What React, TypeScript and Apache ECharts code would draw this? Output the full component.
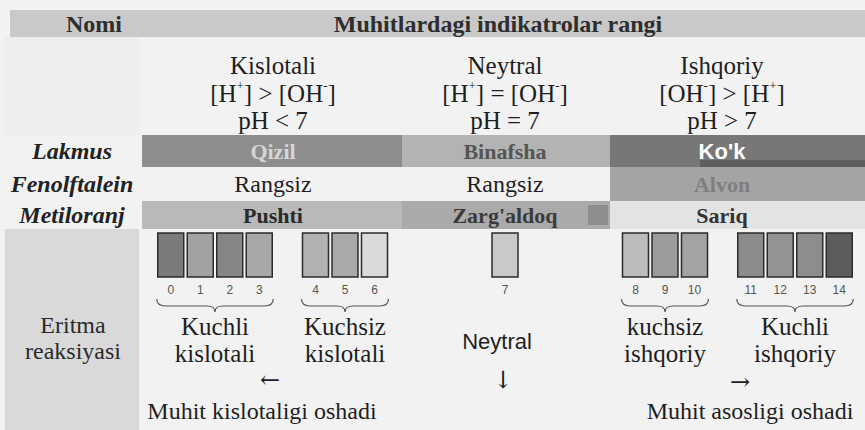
import { useEffect, useRef } from "react";
import * as echarts from "echarts";

// ---------- data ----------
const headerName = "Nomi";
const headerTitle = "Muhitlardagi indikatrolar rangi";
const mediumNames = ["Kislotali", "Neytral", "Ishqoriy"];
const ionLeft = [["H", "+"], ["H", "+"], ["OH", "-"]];
const ionRight = [["OH", "-"], ["OH", "-"], ["H", "+"]];
const ionRelations = [">", "=", ">"];
const phConditions = ["pH < 7", "pH = 7", "pH > 7"];
const indicatorNames = ["Lakmus", "Fenolftalein", "Metiloranj"];
const lakmusColors = ["Qizil", "Binafsha", "Ko'k"];
const fenolftaleinColors = ["Rangsiz", "Rangsiz", "Alvon"];
const metiloranjColors = ["Pushti", "Zarg'aldoq", "Sariq"];
const reactionLabel = ["Eritma", "reaksiyasi"];
const phValues = [0, 1, 2, 3, 4, 5, 6, 7, 8, 9, 10, 11, 12, 13, 14];
const phShades = ["#7b7b7b", "#a2a2a2", "#868686", "#a8a8a8", "#b2b2b2", "#a9a9a9", "#dadada", "#c9c9c9", "#bcbcbc", "#9c9c9c", "#a3a3a3", "#8b8b8b", "#939393", "#8d8d8d", "#5c5c5c"];
const groupRanges = [[0, 3], [4, 6], [7, 7], [8, 10], [11, 14]];
const groupLabels = [["Kuchli", "kislotali"], ["Kuchsiz", "kislotali"], ["Neytral"], ["kuchsiz", "ishqoriy"], ["Kuchli", "ishqoriy"]];
const trendArrows = ["←", "↓", "→"];
const trendLabels = ["Muhit kislotaligi oshadi", "Muhit asosligi oshadi"];

// ---------- layout / style ----------
const SERIF = "'Liberation Serif', 'Times New Roman', serif";
const SANS = "'Liberation Sans', Arial, sans-serif";
const ARROW = "'DejaVu Serif', serif";
const colCenters = [273, 505, 722];
const bandEdges = [142, 402, 610, 865];
const rowTops = [135, 167, 201, 229];
const groupCenters = [215, 345, 505, 665, 795];
const SW = 26, PITCH = 29.5, SW_TOP = 233, SW_H = 44;
const bandStyles = [
  [{ fill: "#8e8e8e", text: "#d6d6d6", font: SERIF }, { fill: "#b3b3b3", text: "#555555", font: SERIF }, { fill: "#777777", text: "#ffffff", font: SANS }],
  [null, null, { fill: "#a4a4a4", text: "#7e7e7e", font: SERIF }],
  [{ fill: "#b9b9b9", text: "#2a2a2a", font: SERIF }, { fill: "#aaaaaa", text: "#3a3a3a", font: SERIF }, { fill: "#e3e3e3", text: "#333333", font: SERIF }],
];

function txt(text: string, x: number, y: number, o: any = {}) {
  return {
    type: "text",
    x,
    y,
    z: 10,
    style: {
      text,
      fontSize: o.size ?? 25,
      fontFamily: o.family ?? SERIF,
      fontWeight: o.weight ?? "normal",
      fontStyle: o.style ?? "normal",
      fill: o.fill ?? "#1e1e1e",
      align: "center",
      verticalAlign: "middle",
      textAlign: "center",
      textVerticalAlign: "middle",
      rich: o.rich,
    },
  };
}

function swatchX(i: number) {
  const g = groupRanges.findIndex((r) => i >= r[0] && i <= r[1]);
  const [a, b] = groupRanges[g];
  const n = b - a + 1;
  const total = n * PITCH - (PITCH - SW);
  return groupCenters[g] - total / 2 + (i - a) * PITCH;
}

function bracePath(xl: number, xr: number, y0: number) {
  const y1 = y0 + 7, y2 = y0 + 13, xm = (xl + xr) / 2;
  return `M${xl} ${y0} Q${xl} ${y1} ${xl + 9} ${y1} L${xm - 8} ${y1} Q${xm} ${y1} ${xm} ${y2} Q${xm} ${y1} ${xm + 8} ${y1} L${xr - 9} ${y1} Q${xr} ${y1} ${xr} ${y0}`;
}

export default function App() {
  const ref = useRef<HTMLDivElement>(null);
  useEffect(() => {
    document.body.style.margin = "0";
    const chart = echarts.init(ref.current!, null, { renderer: "svg" });
    const g: any[] = [];
    // background
    g.push({ type: "rect", shape: { x: 0, y: 0, width: 865, height: 430 }, style: { fill: "#f2f2f2" }, z: 0 });
    g.push({ type: "rect", shape: { x: 10, y: 10, width: 855, height: 27 }, style: { fill: "#c9c9c9" }, z: 1 });
    g.push({ type: "rect", shape: { x: 4, y: 37, width: 136, height: 98 }, style: { fill: "#eeeeee" }, z: 1 });
    g.push({ type: "rect", shape: { x: 5, y: 229, width: 134, height: 201 }, style: { fill: "#d9d9d9" }, z: 1 });
    g.push(txt(headerName, 94, 24, { weight: "bold", size: 24, fill: "#2e2e2e" }));
    g.push(txt(headerTitle, 498, 24, { weight: "bold", size: 24, fill: "#2e2e2e" }));
    // column headers
    const rich = {
      t: { fontSize: 25, fontFamily: SERIF, fill: "#1e1e1e", lineHeight: 28 },
      s: { fontSize: 13, fontFamily: SERIF, fill: "#1e1e1e", verticalAlign: "top", lineHeight: 28 },
    };
    mediumNames.forEach((m, i) => {
      const cx = colCenters[i];
      g.push(txt(m, cx, 65));
      const s = `{t|[${ionLeft[i][0]}}{s|${ionLeft[i][1]}}{t|] ${ionRelations[i]} [${ionRight[i][0]}}{s|${ionRight[i][1]}}{t|]}`;
      g.push(txt(s, cx, 93, { rich }));
      g.push(txt(phConditions[i], cx, 120));
    });
    // indicator rows
    const rowColors = [lakmusColors, fenolftaleinColors, metiloranjColors];
    indicatorNames.forEach((name, r) => {
      const top = rowTops[r], bottom = rowTops[r + 1], cy = (top + bottom) / 2;
      g.push(txt(name, 72, cy, { weight: "bold", style: "italic", size: 24, fill: "#222" }));
      rowColors[r].forEach((c, k) => {
        const st = bandStyles[r][k];
        if (st) {
          g.push({ type: "rect", shape: { x: bandEdges[k], y: top, width: bandEdges[k + 1] - bandEdges[k], height: bottom - top }, style: { fill: st.fill }, z: 2 });
          g.push(txt(c, colCenters[k], cy, { weight: "bold", size: 22, family: st.font, fill: st.text }));
        } else {
          g.push(txt(c, colCenters[k], cy, { size: 24 }));
        }
      });
    });
    // scan marks in bands
    g.push({ type: "rect", shape: { x: 700, y: 160, width: 165, height: 7 }, style: { fill: "#5e5e5e" }, z: 3 });
    g.push({ type: "rect", shape: { x: 588, y: 205, width: 20, height: 20 }, style: { fill: "#8e8e8e" }, z: 3 });
    // braces
    groupRanges.forEach((rg, gi) => {
      if (rg[0] === rg[1]) return;
      const xl = swatchX(rg[0]) - 1, xr = swatchX(rg[1]) + SW + 1;
      const name = `brace${gi}`;
      echarts.graphic.registerShape(name, echarts.graphic.extendPath(bracePath(xl, xr, 299), {}) as any);
      g.push({ type: name, style: { fill: "none", stroke: "#555", lineWidth: 1.2 }, z: 5 });
    });
    // group labels
    groupLabels.forEach((lines, gi) => {
      const cx = groupCenters[gi];
      if (lines.length === 1) {
        g.push(txt(lines[0], cx - 8, 341, { family: SANS, size: 22 }));
      } else {
        g.push(txt(lines[0], cx, 326));
        g.push(txt(lines[1], cx, 353));
      }
    });
    g.push(txt(reactionLabel[0], 73, 325, { fill: "#2a2a2a", size: 24 }));
    g.push(txt(reactionLabel[1], 73, 351, { fill: "#2a2a2a", size: 24 }));
    g.push(txt(trendArrows[0], 270, 380, { size: 24, family: ARROW }));
    g.push(txt(trendArrows[1], 503, 380, { size: 24, family: ARROW }));
    g.push(txt(trendArrows[2], 740, 382, { size: 24, family: ARROW }));
    g.push(txt(trendLabels[0], 262, 411, { size: 24 }));
    g.push(txt(trendLabels[1], 750, 411, { size: 24 }));

    chart.setOption({
      animation: false,
      graphic: g,
      series: [
        {
          type: "custom",
          coordinateSystem: "none",
          silent: true,
          z: 20,
          data: phValues.map((p, i) => [p, i]),
          renderItem: (params: any, api: any) => {
            const i = params.dataIndex;
            const x = swatchX(i);
            return {
              type: "group",
              children: [
                { type: "rect", shape: { x, y: SW_TOP, width: SW, height: SW_H }, style: { fill: phShades[i], stroke: "#2b2b2b", lineWidth: 1.5 } },
                { type: "text", x: x + SW / 2, y: 290, style: { text: String(api.value(0)), fontSize: 12, fontFamily: SANS, fill: "#555555", align: "center", verticalAlign: "middle" } },
              ],
            };
          },
        },
      ],
    });
    return () => chart.dispose();
  }, []);
  return <div ref={ref} style={{ width: 865, height: 430 }} />;
}
